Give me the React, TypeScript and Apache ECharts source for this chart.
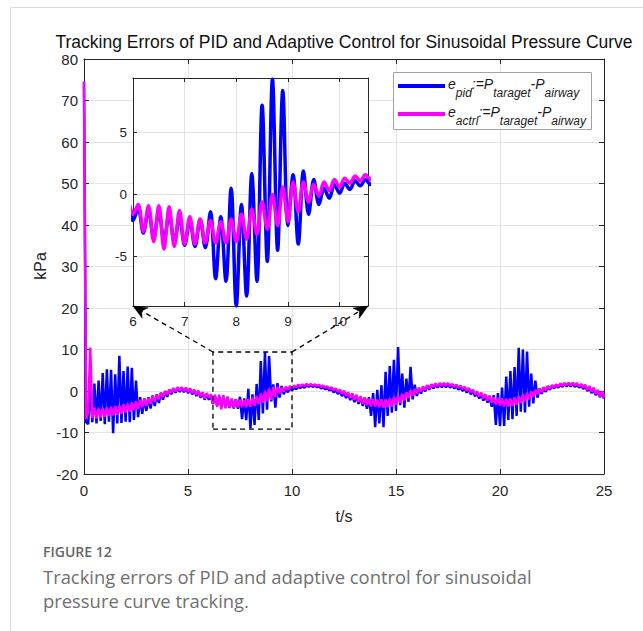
import React, { useEffect, useRef } from "react";
import * as echarts from "echarts";

// Sampling interval of the logged error signals (s)
const SAMPLE_STEP = 0.1;

// Tracking error of the PID controller, kPa, one value per sample from t = 0 s to 25 s
const pidError = [
  74.5, -7.5, -8.0, 1.0, -7.5, 1.8, -7.8, 2.5, -7.2, 4.3,
  -8.0, 5.2, -7.4, 5.1, -10.2, 4.0, -7.8, 8.5, -7.7, 4.8,
  -7.4, 5.9, -7.5, 5.6, -7.0, 2.5, -6.3, -1.5, -5.5, -1.8,
  -4.8, -1.5, -4.2, -1.1, -3.6, -0.8, -2.9, -0.4, -2.1, 0.0,
  -1.4, 0.3, -0.8, 0.6, -0.4, 0.8, -0.2, 0.8, -0.3, 0.7,
  -0.5, 0.5, -0.8, 0.2, -1.2, -0.1, -1.6, -0.5, -2.1, -0.8,
  -2.1, -1.1, -3.1, -1.3, -3.5, -1.4, -3.7, -1.6, -3.8, -1.9,
  -4.1, -2.1, -4.2, -2.0, -4.3, -1.4, -6.8, -1.8, -7.0, 0.5,
  -9.0, -0.8, -8.2, 1.7, -7.0, 7.2, -5.4, 9.3, -4.5, 8.4,
  -2.5, 1.6, -4.0, 1.9, -1.6, 1.2, -0.8, 0.5, -0.3, 0.8,
  0.1, 0.9, 0.4, 1.1, 0.7, 1.2, 0.8, 1.4, 1.0, 1.4,
  1.0, 1.3, 0.9, 1.2, 0.6, 1.0, 0.4, 0.8, 0.1, 0.5,
  -0.3, 0.2, -0.7, -0.1, -1.2, -0.4, -1.7, -0.7, -2.2, -1.0,
  -2.7, -1.2, -3.1, -1.5, -3.6, -1.6, -4.3, -1.5, -6.0, -0.5,
  -8.7, 0.3, -7.8, 1.4, -8.7, 4.6, -6.0, 6.0, -5.2, 7.5,
  -4.8, 10.6, -3.4, 4.2, -4.0, 3.0, -2.6, 5.8, -2.0, 1.5,
  -1.2, 0.6, -0.6, 0.9, -0.1, 1.2, 0.3, 1.4, 0.6, 1.6,
  0.8, 1.7, 0.9, 1.7, 0.9, 1.6, 0.8, 1.5, 0.6, 1.2,
  0.3, 1.0, 0.0, 0.7, -0.4, 0.4, -0.8, 0.0, -1.3, -0.4,
  -1.8, -0.8, -2.3, -1.1, -2.8, -1.4, -3.8, -1.0, -8.2, -0.5,
  -8.5, 0.8, -8.4, 3.5, -7.0, 4.8, -6.8, 5.8, -6.0, 10.4,
  -5.0, 10.0, -5.2, 9.5, -3.8, 4.2, -3.0, 2.5, -1.6, 0.6,
  -0.7, 0.8, -0.2, 1.1, 0.3, 1.3, 0.6, 1.5, 0.8, 1.6,
  1.0, 1.7, 1.1, 1.7, 1.1, 1.7, 1.0, 1.6, 0.8, 1.4,
  0.5, 1.2, 0.0, 0.8, -0.5, 0.4, -1.0, 0.0, -1.5, -0.4,
  -1.8,
];

// Tracking error of the adaptive controller, kPa, same sampling
const actrlError = [
  74.5, -6.8, -5.2, 10.5, -6.5, -4.0, -6.6, -4.2, -6.4, -4.1,
  -6.2, -4.0, -6.0, -3.8, -5.9, -3.6, -5.7, -3.5, -5.5, -3.2,
  -5.2, -3.1, -5.0, -2.8, -4.6, -2.5, -4.3, -2.2, -3.9, -1.9,
  -3.6, -1.7, -3.1, -1.2, -2.6, -0.9, -2.0, -0.5, -1.4, -0.1,
  -0.9, 0.3, -0.4, 0.7, -0.1, 0.9, 0.1, 0.9, 0.0, 0.8,
  -0.2, 0.6, -0.5, 0.3, -0.9, 0.1, -1.3, -0.3, -1.8, -0.5,
  -1.6, -0.8, -3.0, -0.9, -3.8, -0.9, -4.4, -1.0, -4.2, -1.3,
  -4.0, -1.8, -4.0, -2.0, -3.9, -2.1, -3.9, -2.2, -3.9, -2.0,
  -3.8, -1.6, -3.6, -1.2, -3.2, -0.6, -2.8, 0.0, -2.5, 0.6,
  -2.2, 1.0, -1.4, 1.0, -0.6, 0.8, -0.1, 1.0, 0.3, 1.2,
  0.6, 1.3, 0.9, 1.5, 1.1, 1.6, 1.2, 1.7, 1.3, 1.7,
  1.3, 1.6, 1.2, 1.5, 1.0, 1.3, 0.8, 1.1, 0.5, 0.9,
  0.2, 0.6, -0.2, 0.3, -0.7, 0.1, -1.2, -0.3, -1.7, -0.6,
  -2.1, -0.9, -2.6, -1.3, -3.1, -1.6, -3.4, -1.9, -3.7, -2.0,
  -3.8, -2.1, -3.9, -2.0, -4.0, -2.0, -3.9, -1.8, -3.7, -1.5,
  -3.3, -1.1, -2.8, -0.7, -2.3, -0.3, -1.7, 0.1, -1.1, 0.5,
  -0.6, 0.8, -0.1, 1.1, 0.3, 1.4, 0.7, 1.6, 1.0, 1.8,
  1.2, 1.9, 1.3, 1.9, 1.3, 1.9, 1.2, 1.7, 1.0, 1.5,
  0.8, 1.3, 0.5, 1.0, 0.1, 0.7, -0.3, 0.3, -0.8, -0.1,
  -1.3, -0.4, -1.8, -0.8, -2.3, -1.1, -2.8, -1.5, -3.2, -1.7,
  -3.5, -1.8, -3.7, -1.9, -3.7, -1.8, -3.6, -1.6, -3.3, -1.2,
  -2.9, -0.9, -2.5, -0.5, -2.0, -0.1, -1.4, 0.3, -0.8, 0.6,
  -0.3, 0.9, 0.2, 1.2, 0.6, 1.4, 0.9, 1.6, 1.1, 1.8,
  1.3, 1.9, 1.4, 2.0, 1.4, 2.0, 1.3, 1.9, 1.1, 1.7,
  0.8, 1.5, 0.3, 1.2, -0.2, 0.8, -0.7, 0.3, -1.3, -0.1,
  -1.6,
];

// Axis ranges
const mainTimeRange = [0, 25];
const mainPressureRange = [-20, 80];
const insetTimeRange = [6, 10.55];
const insetPressureRange = [-9, 9.4];

// Magnified window marked on the main axes (t in s, pressure in kPa)
const zoomWindowT = [6.2, 10];
const zoomWindowP = [-9.2, 9.4];

const TITLE = "Tracking Errors of PID and Adaptive Control for Sinusoidal Pressure Curve";
const CAPTION_HEAD = "FIGURE 12";
const CAPTION_LINES = [
  "Tracking errors of PID and adaptive control for sinusoidal",
  "pressure curve tracking.",
];

// Legend entries: [text, isSubscript] fragments
const legendRows: { color: string; parts: [string, boolean][] }[] = [
  {
    color: "#0000ff",
    parts: [["e", false], ["pid", true], [":=P", false], ["taraget", true], ["-P", false], ["airway", true]],
  },
  {
    color: "#ff00ff",
    parts: [["e", false], ["actrl", true], [":=P", false], ["taraget", true], ["-P", false], ["airway", true]],
  },
];

const FONT = "Liberation Sans";
const INK = "#262626";
const GRID_GRAY = "#e3e3e3";

function toPoints(values: number[]) {
  return values.map((v, i) => [Math.round(i * SAMPLE_STEP * 100) / 100, v]);
}

function textWidth(text: string, font: string) {
  const ctx = document.createElement("canvas").getContext("2d");
  if (!ctx) return text.length * 7;
  ctx.font = font;
  return ctx.measureText(text).width;
}

function valueAxis(extra: any) {
  return {
    type: "value",
    axisLine: { show: true, onZero: false, lineStyle: { color: INK, width: 1 } },
    axisTick: { show: true, inside: true, length: 5, lineStyle: { color: INK, width: 1 } },
    axisLabel: { color: INK, fontFamily: FONT, fontSize: 15 },
    splitLine: { show: true, lineStyle: { color: GRID_GRAY, width: 1 } },
    ...extra,
  };
}

function text(x: number, y: number, str: string, style: any, extra: any = {}) {
  return {
    type: "text",
    x,
    y,
    silent: true,
    ...extra,
    style: {
      text: str,
      fontFamily: FONT,
      fill: INK,
      align: "left",
      textAlign: "left",
      verticalAlign: "middle",
      textVerticalAlign: "middle",
      ...style,
    },
  };
}

function buildLegend() {
  const els: any[] = [];
  const boxX = 393;
  const boxY = 72;
  els.push({
    type: "rect",
    z: 20,
    silent: true,
    shape: { x: boxX + 0.5, y: boxY + 0.5, width: 198, height: 57 },
    style: { fill: "#ffffff", stroke: "#a3a3a3", lineWidth: 1 },
  });
  const rowY = [84, 112];
  legendRows.forEach((row, r) => {
    const y = rowY[r];
    els.push({
      type: "line",
      z: 21,
      silent: true,
      shape: { x1: 398, y1: y + 2, x2: 445, y2: y + 2 },
      style: { stroke: row.color, lineWidth: 4 },
    });
    let x = 448;
    row.parts.forEach(([str, sub]) => {
      const size = sub ? 12 : 14;
      const font = `italic ${size}px "${FONT}"`;
      els.push(
        text(x, sub ? y + 9 : y, str, { fontSize: size, fontStyle: "italic", fill: "#1a1a1a" }, { z: 22 })
      );
      x += textWidth(str, font);
    });
  });
  return els;
}

function arrowConnector(from: number[], tip: number[]) {
  const dx = tip[0] - from[0];
  const dy = tip[1] - from[1];
  const len = Math.hypot(dx, dy);
  const ux = dx / len;
  const uy = dy / len;
  const nx = -uy;
  const ny = ux;
  const L = 14;
  const W = 6;
  const notch = 4;
  const base = [tip[0] - ux * L, tip[1] - uy * L];
  const inner = [tip[0] - ux * (L - notch), tip[1] - uy * (L - notch)];
  return [
    {
      type: "line",
      z: 15,
      silent: true,
      shape: { x1: from[0], y1: from[1], x2: inner[0], y2: inner[1] },
      style: { stroke: "#000", lineWidth: 1.3, lineDash: [5, 4] },
    },
    {
      type: "polygon",
      z: 15,
      silent: true,
      shape: {
        points: [
          tip,
          [base[0] + nx * W, base[1] + ny * W],
          inner,
          [base[0] - nx * W, base[1] - ny * W],
        ],
      },
      style: { fill: "#000", stroke: "#000", lineWidth: 0.5 },
    },
  ];
}

export default function App() {
  const ref = useRef<HTMLDivElement>(null);

  useEffect(() => {
    if (!ref.current) return;
    const chart = echarts.init(ref.current, null, { renderer: "svg" });

    const pidPts = toPoints(pidError);
    const actrlPts = toPoints(actrlError);
    const windowPts = [
      [zoomWindowT[0], zoomWindowP[0]],
      [zoomWindowT[1], zoomWindowP[0]],
      [zoomWindowT[1], zoomWindowP[1]],
      [zoomWindowT[0], zoomWindowP[1]],
      [zoomWindowT[0], zoomWindowP[0]],
    ];

    const option: any = {
      animation: false,
      backgroundColor: "#ffffff",
      grid: [
        { left: 84, top: 59, width: 520, height: 415, show: false },
        { left: 133, top: 78, width: 235, height: 228, show: true, backgroundColor: "#ffffff", borderWidth: 0, z: 2 },
      ],
      xAxis: [
        valueAxis({
          gridIndex: 0, position: "bottom", min: mainTimeRange[0], max: mainTimeRange[1], interval: 5, z: 0,
          axisLabel: { color: INK, fontFamily: FONT, fontSize: 15, margin: 9 },
        }),
        valueAxis({
          gridIndex: 0, position: "top", min: mainTimeRange[0], max: mainTimeRange[1], interval: 5, z: 0,
          axisLabel: { show: false }, splitLine: { show: false },
        }),
        valueAxis({
          gridIndex: 1, position: "bottom", min: insetTimeRange[0], max: insetTimeRange[1], interval: 1, z: 3,
          axisTick: { show: true, inside: true, length: 4, lineStyle: { color: INK } },
          axisLabel: { color: INK, fontFamily: FONT, fontSize: 13.5, margin: 8, showMaxLabel: false },
        }),
        valueAxis({
          gridIndex: 1, position: "top", min: insetTimeRange[0], max: insetTimeRange[1], interval: 1, z: 3,
          axisTick: { show: true, inside: true, length: 4, lineStyle: { color: INK } },
          axisLabel: { show: false }, splitLine: { show: false },
        }),
      ],
      yAxis: [
        valueAxis({
          gridIndex: 0, position: "left", min: mainPressureRange[0], max: mainPressureRange[1], interval: 10, z: 0,
          axisLabel: { color: INK, fontFamily: FONT, fontSize: 15, margin: 6, lineHeight: 13 },
        }),
        valueAxis({
          gridIndex: 0, position: "right", min: mainPressureRange[0], max: mainPressureRange[1], interval: 10, z: 0,
          axisLabel: { show: false }, splitLine: { show: false },
        }),
        valueAxis({
          gridIndex: 1, position: "left", min: insetPressureRange[0], max: insetPressureRange[1],
          splitNumber: 4, minInterval: 5, maxInterval: 5, z: 3,
          axisTick: { show: true, inside: true, length: 4, lineStyle: { color: INK } },
          axisLabel: { color: INK, fontFamily: FONT, fontSize: 13.5, margin: 6, showMinLabel: false, showMaxLabel: false },
        }),
        valueAxis({
          gridIndex: 1, position: "right", min: insetPressureRange[0], max: insetPressureRange[1],
          splitNumber: 4, minInterval: 5, maxInterval: 5, z: 3,
          axisTick: { show: true, inside: true, length: 4, lineStyle: { color: INK } },
          axisLabel: { show: false }, splitLine: { show: false },
        }),
      ],
      series: [
        {
          name: "e_pid", type: "line", xAxisIndex: 0, yAxisIndex: 0, data: pidPts,
          symbol: "none", showSymbol: false, silent: true, z: 2,
          lineStyle: { color: "#0000ff", width: 2.5 },
        },
        {
          name: "e_actrl", type: "line", xAxisIndex: 0, yAxisIndex: 0, data: actrlPts,
          symbol: "none", showSymbol: false, silent: true, z: 2,
          lineStyle: { color: "#ff00ff", width: 2.5 },
        },
        {
          name: "window", type: "line", xAxisIndex: 0, yAxisIndex: 0, data: windowPts,
          symbol: "none", showSymbol: false, silent: true, z: 5,
          lineStyle: { color: "#000000", width: 1.3, type: [5, 4] },
        },
        {
          name: "e_pid inset", type: "line", xAxisIndex: 2, yAxisIndex: 2, data: pidPts,
          symbol: "none", showSymbol: false, silent: true, z: 4, smooth: 0.35, clip: true,
          lineStyle: { color: "#0000ff", width: 3.5 },
        },
        {
          name: "e_actrl inset", type: "line", xAxisIndex: 2, yAxisIndex: 2, data: actrlPts,
          symbol: "none", showSymbol: false, silent: true, z: 4, smooth: 0.35, clip: true,
          lineStyle: { color: "#ff00ff", width: 3.5 },
        },
      ],
    };

    chart.setOption(option);

    // Connectors from the marked window's top corners to the inset's bottom corners
    const winTL = chart.convertToPixel({ xAxisIndex: 0, yAxisIndex: 0 }, [zoomWindowT[0], zoomWindowP[1]]) as number[];
    const winTR = chart.convertToPixel({ xAxisIndex: 0, yAxisIndex: 0 }, [zoomWindowT[1], zoomWindowP[1]]) as number[];
    const insBL = chart.convertToPixel({ xAxisIndex: 2, yAxisIndex: 2 }, [insetTimeRange[0], insetPressureRange[0]]) as number[];
    const insBR = chart.convertToPixel({ xAxisIndex: 2, yAxisIndex: 2 }, [insetTimeRange[1], insetPressureRange[0]]) as number[];

    const graphics: any[] = [
      {
        type: "rect",
        z: -1,
        silent: true,
        shape: { x: 10.5, y: 7.5, width: 700, height: 700 },
        style: { fill: "none", stroke: "#dcdcdc", lineWidth: 1.2 },
      },
      text(344, 42, TITLE, { fontSize: 17.5, lineHeight: 15, fill: "#111", align: "center", textAlign: "center" }, { z: 10 }),
      text(40, 266, "kPa", { fontSize: 16, fill: INK, align: "center", textAlign: "center" }, { rotation: Math.PI / 2, z: 10 }),
      text(344, 516, "t/s", { fontSize: 16, fill: INK, align: "center", textAlign: "center" }, { z: 10 }),
      text(43, 551, CAPTION_HEAD, { fontFamily: "Open Sans", fontSize: 14, fontWeight: 600, fill: "#666666" }),
      text(43, 576, CAPTION_LINES[0], { fontFamily: "Open Sans", fontSize: 18.4, fill: "#707070" }),
      text(43, 600, CAPTION_LINES[1], { fontFamily: "Open Sans", fontSize: 18.4, fill: "#707070" }),
      ...buildLegend(),
      ...arrowConnector(winTL, insBL),
      ...arrowConnector(winTR, insBR),
    ];

    chart.setOption({ graphic: { elements: graphics } });

    return () => chart.dispose();
  }, []);

  return (
    <div
      ref={ref}
      style={{ position: "fixed", left: 0, top: 0, width: 643, height: 631, background: "#ffffff" }}
    />
  );
}
